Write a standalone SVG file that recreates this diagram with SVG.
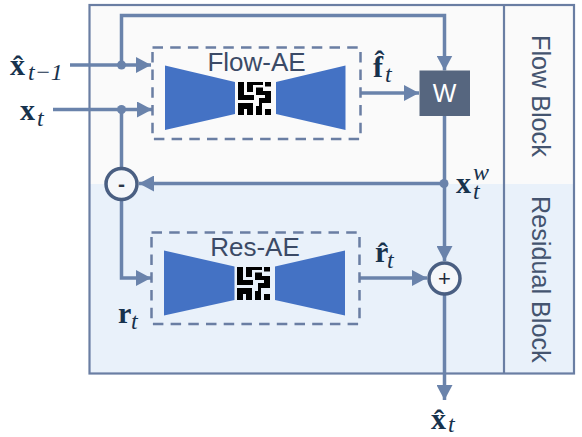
<svg xmlns="http://www.w3.org/2000/svg" xmlns:xlink="http://www.w3.org/1999/xlink" width="582" height="437" viewBox="0 0 582 437">
<style>
.ln{fill:none;stroke:#6a83ab;stroke-width:3.5}
.dash{fill:none;stroke:#6a7ea3;stroke-width:2.5;stroke-dasharray:10.5 7.2}
.wedge{fill:#4472c4}
.lbl{font-family:"Liberation Sans",Arial,sans-serif;font-size:26px;fill:#3b4a66;text-anchor:middle}
.blk{font-family:"Liberation Sans",Arial,sans-serif;font-size:25.2px;fill:#44546f}
.m{font-family:"Liberation Serif","Times New Roman",serif;font-size:30px;font-weight:bold;fill:#17324d}
.s{font-size:24px;font-weight:normal;font-style:italic}
.op{fill:#f5f7fa;stroke:#4a5f82;stroke-width:3.5}
.dot{fill:#6a83ab}
.frame{fill:none;stroke:#6a7ea3;stroke-width:2.2}
</style>
<defs>
<marker id="ah" markerUnits="userSpaceOnUse" markerWidth="15" markerHeight="16" refX="15" refY="8" orient="auto"><path d="M0 0L15 8L0 16Z" fill="#6a83ab"/></marker>
<g id="maze" fill="#000">
<path d="M0 0H6V13H16V18H0Z"/>
<path d="M9 0H25V3H15V10H9Z"/>
<path d="M27 0H33V4.500H27Z"/>
<path d="M18 5.500H25V9H33V21H24V33H18V24H21V16H27V13H18Z"/>
<path d="M0 21H15V33H9V27H6V33H0Z"/>
<path d="M27 27H33V33H27Z"/>
</g>
</defs>
<g id="blocks">
<rect x="90" y="5" width="484" height="179" fill="#fafafa"/>
<rect x="90" y="184" width="484" height="189.500" fill="#e9f1fa"/>
<rect class="frame" x="89.500" y="5" width="484.500" height="368.500"/>
<path class="frame" d="M504 5V373.500"/>
<text class="blk" transform="translate(531.500 35) rotate(90)">Flow Block</text>
<text class="blk" transform="translate(531.500 196) rotate(90)">Residual Block</text>
</g>
<g id="connectors">
<path class="ln" d="M70 65H151" marker-end="url(#ah)"/>
<path class="ln" d="M53 109.500H152" marker-end="url(#ah)"/>
<path class="ln" d="M121.500 65V15.500H444.500V70.500" marker-end="url(#ah)"/>
<path class="ln" d="M121.500 109.500V168"/>
<path class="ln" d="M444.500 183.500H139" marker-end="url(#ah)"/>
<path class="ln" d="M121.500 200V278H151" marker-end="url(#ah)"/>
<path class="ln" d="M361 93H419" marker-end="url(#ah)"/>
<path class="ln" d="M444.500 116V261" marker-end="url(#ah)"/>
<path class="ln" d="M360 278H427" marker-end="url(#ah)"/>
<path class="ln" d="M444.500 295V400" marker-end="url(#ah)"/>
<circle class="dot" cx="121.500" cy="65" r="4.500"/>
<circle class="dot" cx="121.500" cy="109.500" r="4.500"/>
<circle class="dot" cx="444" cy="183.500" r="4.500"/>
</g>
<g id="flow-ae">
<rect class="dash" x="152.500" y="47.500" width="208" height="91.500"/>
<path class="wedge" d="M165 65.500L235 82V114L165 130Z"/>
<path class="wedge" d="M345.500 65.500L276 82V114L345.500 130Z"/>
<use xlink:href="#maze" href="#maze" x="238" y="82"/>
<text class="lbl" x="256.500" y="71">Flow-AE</text>
</g>
<g id="res-ae">
<rect class="dash" x="151.500" y="232.500" width="208" height="91.500"/>
<path class="wedge" d="M164 250.500L234.500 266.500V300L164 315.500Z"/>
<path class="wedge" d="M345 250.500L275 266.500V300L345 315.500Z"/>
<use xlink:href="#maze" href="#maze" x="237" y="267"/>
<text class="lbl" x="255" y="256">Res-AE</text>
</g>
<g id="warp">
<rect x="419.500" y="70.500" width="50.500" height="45.500" fill="#56667f"/>
<text x="444.500" y="102" font-family="'Liberation Sans',Arial,sans-serif" font-size="25" fill="#fff" text-anchor="middle">W</text>
</g>
<g id="subtract">
<circle class="op" cx="121.500" cy="184" r="15.500"/>
<text x="121.500" y="191" font-family="'Liberation Sans',Arial,sans-serif" font-size="21" font-weight="bold" fill="#2b3648" text-anchor="middle">-</text>
</g>
<g id="add">
<circle class="op" cx="444.500" cy="278.500" r="15.500"/>
<text x="444.500" y="286" font-family="'Liberation Sans',Arial,sans-serif" font-size="22" fill="#1f2a3a" text-anchor="middle">+</text>
</g>
<g id="labels">
<text class="m"><tspan x="10" y="75">x̂</tspan><tspan class="s" x="28" y="80">t−1</tspan></text>
<text class="m"><tspan x="20" y="120">x</tspan><tspan class="s" x="37" y="126">t</tspan></text>
<text class="m"><tspan x="373" y="77">f̂</tspan><tspan class="s" x="385" y="82">t</tspan></text>
<text class="m"><tspan x="456" y="193">x</tspan><tspan class="s" x="473" y="180">w</tspan><tspan class="s" x="473" y="199">t</tspan></text>
<text class="m"><tspan x="118" y="323">r</tspan><tspan class="s" x="131" y="329">t</tspan></text>
<text class="m"><tspan x="375" y="262">r̂</tspan><tspan class="s" x="387" y="268">t</tspan></text>
<text class="m"><tspan x="431" y="429">x̂</tspan><tspan class="s" x="448" y="432">t</tspan></text>
</g>
</svg>
